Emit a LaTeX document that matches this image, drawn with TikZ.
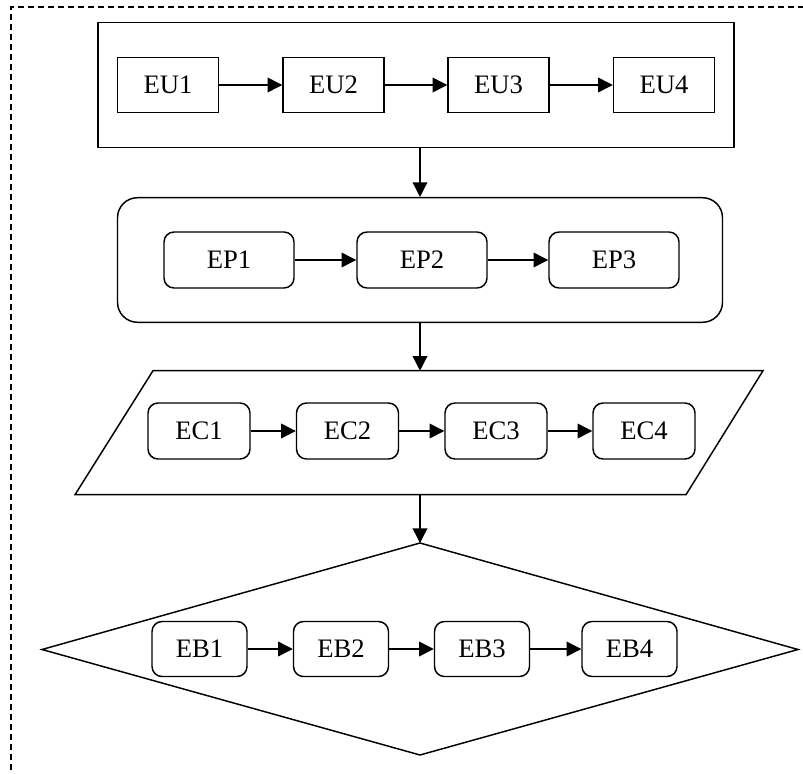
\documentclass[tikz,border=0pt]{standalone}
\usepackage{fontspec}
\setmainfont{Liberation Serif}
\usetikzlibrary{arrows.meta}
\tikzset{
  frame/.style={draw, line width=1.1pt, dash pattern=on 4.5pt off 3pt},
  holder/.style={draw, line width=1.1pt, inner sep=0pt},
  box/.style={draw, line width=1.1pt, inner sep=0pt, font=\fontsize{20}{24}\selectfont},
  ubox/.style={box, minimum width=101*0.75pt, minimum height=55*0.75pt},
  pbox/.style={box, rounded corners=7.5pt, minimum width=130*0.75pt, minimum height=56*0.75pt},
  cbox/.style={box, rounded corners=7.5pt, minimum width=102*0.75pt, minimum height=56*0.75pt},
  bbox/.style={box, rounded corners=7.5pt, minimum width=95*0.75pt, minimum height=55*0.75pt},
  link/.style={line width=1.1pt, -{Triangle[length=11pt, width=11pt]}},
}
\begin{document}
\begin{tikzpicture}[x=0.75pt, y=-0.75pt]
\useasboundingbox (0,0) rectangle (803,774);

% dashed enclosing frame (runs off the page at right and bottom)
\coordinate (f-bl) at (11,790);
\coordinate (f-tl) at (11,7);
\coordinate (f-tr) at (820,7);
\draw[frame] (f-bl) -- (f-tl) -- (f-tr);

% layer 1: plain rectangle holding EU1..EU4
\node[holder, minimum width=636*0.75pt, minimum height=124.6*0.75pt] (eu) at (416,85) {};
\node[ubox] (eu1) at (168,85) {EU1};
\node[ubox] (eu2) at (333.5,85) {EU2};
\node[ubox] (eu3) at (498.5,85) {EU3};
\node[ubox] (eu4) at (664,85) {EU4};
\draw[link] (eu1) -- (eu2);
\draw[link] (eu2) -- (eu3);
\draw[link] (eu3) -- (eu4);

% layer 2: rounded rectangle holding EP1..EP3
\node[holder, rounded corners=15pt, minimum width=605*0.75pt, minimum height=124.6*0.75pt] (ep) at (420,260) {};
\node[pbox] (ep1) at (229,260) {EP1};
\node[pbox] (ep2) at (422,260) {EP2};
\node[pbox] (ep3) at (614,260) {EP3};
\draw[link] (ep1) -- (ep2);
\draw[link] (ep2) -- (ep3);

\draw[link] (eu.south -| ep.north) -- (ep.north);

% layer 3: parallelogram holding EC1..EC4
\coordinate (ec-nw) at (153,370.7);
\coordinate (ec-ne) at (763,370.7);
\coordinate (ec-se) at (686,494.7);
\coordinate (ec-sw) at (75,494.7);
\coordinate (ec-top) at (420,370.7);
\coordinate (ec-bot) at (420,494.7);
\draw[line width=1.1pt] (ec-nw) -- (ec-ne) -- (ec-se) -- (ec-sw) -- cycle;
\node[cbox] (ec1) at (199,431) {EC1};
\node[cbox] (ec2) at (347.5,431) {EC2};
\node[cbox] (ec3) at (496,431) {EC3};
\node[cbox] (ec4) at (644,431) {EC4};
\draw[link] (ec1) -- (ec2);
\draw[link] (ec2) -- (ec3);
\draw[link] (ec3) -- (ec4);

\draw[link] (ep.south) -- (ec-top);

% layer 4: diamond holding EB1..EB4
\coordinate (eb-n) at (420,543);
\coordinate (eb-e) at (798,649.5);
\coordinate (eb-s) at (420,755);
\coordinate (eb-w) at (42,649.5);
\draw[line width=1.1pt] (eb-n) -- (eb-e) -- (eb-s) -- (eb-w) -- cycle;
\node[bbox] (eb1) at (199.5,649) {EB1};
\node[bbox] (eb2) at (341,649) {EB2};
\node[bbox] (eb3) at (482,649) {EB3};
\node[bbox] (eb4) at (629.5,649) {EB4};
\draw[link] (eb1) -- (eb2);
\draw[link] (eb2) -- (eb3);
\draw[link] (eb3) -- (eb4);

\draw[link] (ec-bot) -- (eb-n);
\end{tikzpicture}
\end{document}
